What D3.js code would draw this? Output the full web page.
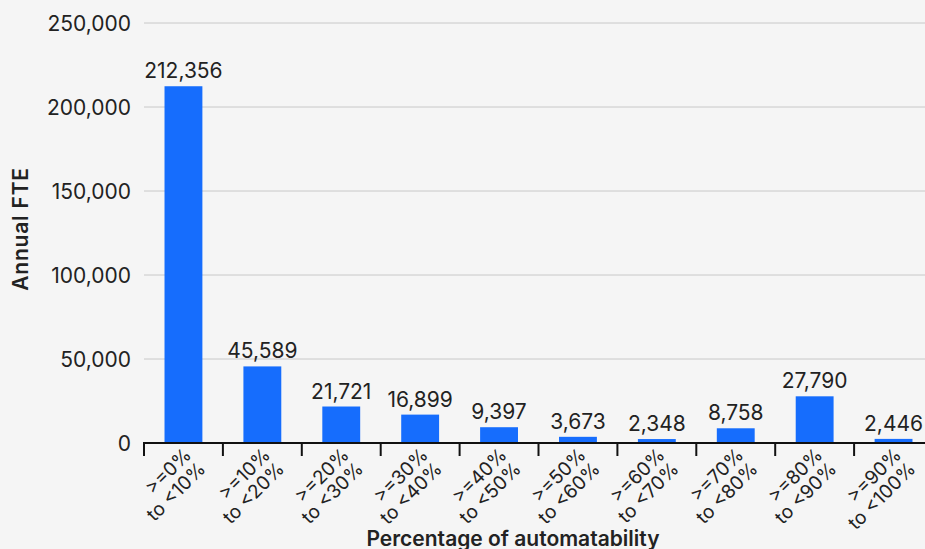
<!DOCTYPE html>
<html>
<head>
<meta charset="utf-8">
<script src="https://cdn.jsdelivr.net/npm/d3@7"></script>
<style>
  html, body { margin: 0; padding: 0; background: #f5f5f5; }
  svg { display: block; font-family: Inter, "Noto Sans", sans-serif; }
</style>
</head>
<body>
<svg id="chart" width="925" height="549"></svg>
<script>
const categories = ["0-10", "10-20", "20-30", "30-40", "40-50", "50-60", "60-70", "70-80", "80-90", "90-100"];
const labelLine1 = [">=0%", ">=10%", ">=20%", ">=30%", ">=40%", ">=50%", ">=60%", ">=70%", ">=80%", ">=90%"];
const labelLine2 = ["to <10%", "to <20%", "to <30%", "to <40%", "to <50%", "to <60%", "to <70%", "to <80%", "to <90%", "to <100%"];
const values = [212356, 45589, 21721, 16899, 9397, 3673, 2348, 8758, 27790, 2446];
const yTicks = [0, 50000, 100000, 150000, 200000, 250000];
const yTitle = "Annual FTE";
const xTitle = "Percentage of automatability";

const W = 925, H = 549;
const svg = d3.select("#chart");
svg.append("rect").attr("width", W).attr("height", H).attr("fill", "#f5f5f5");

const x = d3.scaleBand().domain(categories).range([144, 933]).paddingInner(0.52).paddingOuter(0.26);
const y = d3.scaleLinear().domain([0, 250000]).range([443, 23]);
const fmt = d3.format(",");
const textColor = "#222";

// gridlines
svg.append("g").selectAll("line").data(yTicks.filter(d => d > 0)).join("line")
  .attr("x1", 144).attr("x2", W)
  .attr("y1", d => y(d)).attr("y2", d => y(d))
  .attr("stroke", "#c8c8c8").attr("stroke-width", 1);

// y tick labels
svg.append("g").selectAll("text").data(yTicks).join("text")
  .attr("x", 131).attr("y", d => y(d))
  .attr("text-anchor", "end").attr("dominant-baseline", "central")
  .attr("font-size", 21).attr("fill", textColor)
  .text(d => fmt(d));

// bars
svg.append("g").selectAll("rect").data(values).join("rect")
  .attr("x", (d, i) => x(categories[i]))
  .attr("width", x.bandwidth())
  .attr("y", d => y(d))
  .attr("height", d => y(0) - y(d))
  .attr("fill", "#166dfd");

// value labels
svg.append("g").selectAll("text").data(values).join("text")
  .attr("x", (d, i) => x(categories[i]) + x.bandwidth() / 2)
  .attr("y", d => y(d) - 8)
  .attr("text-anchor", "middle")
  .attr("font-size", 21).attr("fill", textColor)
  .text(d => fmt(d));

// x axis line
svg.append("line").attr("x1", 143).attr("x2", W).attr("y1", y(0)).attr("y2", y(0))
  .attr("stroke", "#111").attr("stroke-width", 2);

// ticks at band boundaries
const step = x.step();
const bounds = d3.range(categories.length + 1).map(i => 144 + i * step);
svg.append("g").selectAll("line").data(bounds).join("line")
  .attr("x1", d => d).attr("x2", d => d)
  .attr("y1", y(0)).attr("y2", y(0) + 13)
  .attr("stroke", "#111").attr("stroke-width", 2);

// x labels
const xl = svg.append("g").selectAll("g").data(categories).join("g")
  .attr("transform", d => `translate(${x(d) + x.bandwidth() / 2 + 9},${y(0) + 13}) rotate(-45)`);
xl.append("text")
  .attr("text-anchor", "end").attr("font-size", 19).attr("fill", textColor)
  .attr("x", 0).attr("y", 0)
  .text((d, i) => labelLine1[i]);
xl.append("text")
  .attr("text-anchor", "end").attr("font-size", 19).attr("fill", textColor)
  .attr("x", 0).attr("y", 20)
  .text((d, i) => labelLine2[i]);

// axis titles
svg.append("text")
  .attr("transform", `translate(28,229) rotate(-90)`)
  .attr("text-anchor", "middle").attr("font-size", 21).attr("font-weight", 600)
  .attr("letter-spacing", 0.8)
  .attr("fill", textColor).text(yTitle);
svg.append("text")
  .attr("x", 513).attr("y", 546)
  .attr("text-anchor", "middle").attr("font-size", 21).attr("font-weight", 600)
  .attr("fill", textColor).text(xTitle);
</script>
</body>
</html>
